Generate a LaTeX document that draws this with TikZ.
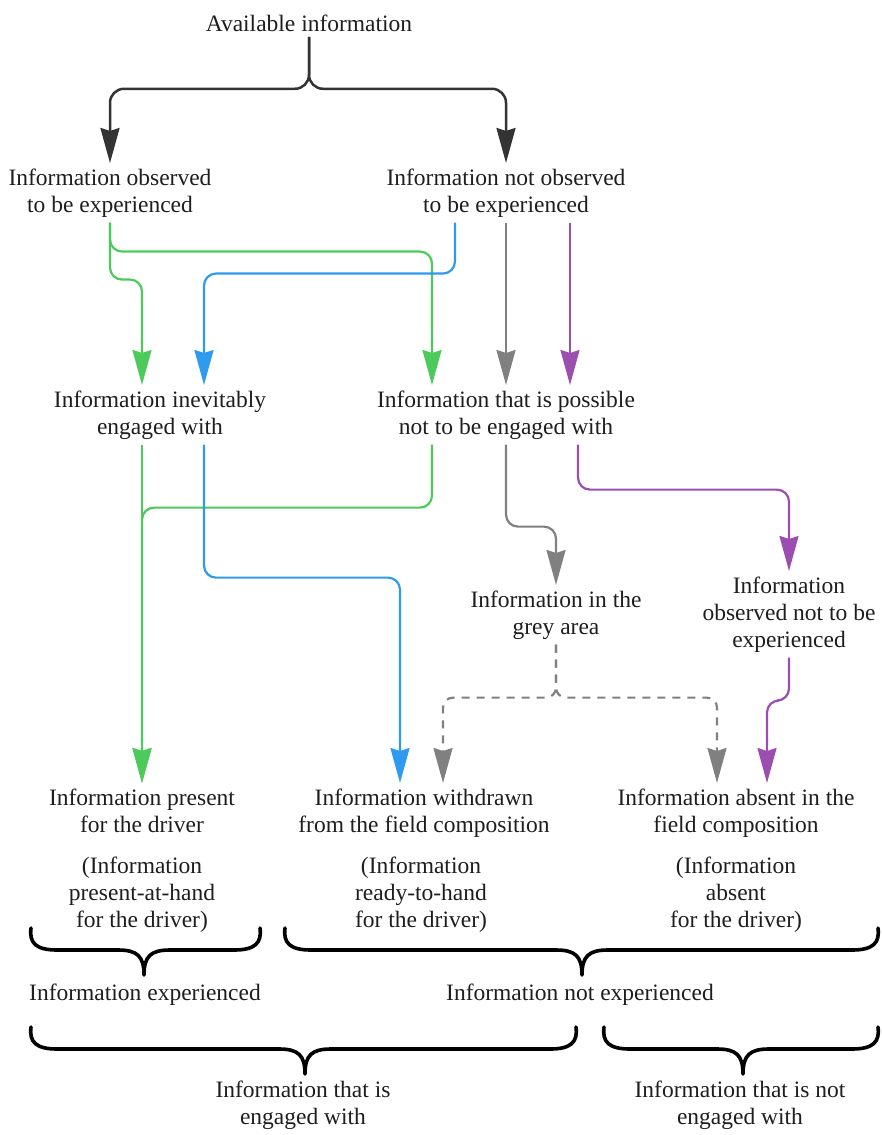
\documentclass[tikz,border=0pt]{standalone}
\usepackage{fontspec}
\setmainfont{Liberation Serif}
\usetikzlibrary{arrows.meta}

\definecolor{inkc}{RGB}{30,30,30}
\definecolor{darkln}{RGB}{51,51,51}
\definecolor{greenln}{RGB}{76,203,91}
\definecolor{blueln}{RGB}{46,155,240}
\definecolor{greyln}{RGB}{128,128,128}
\definecolor{purpleln}{RGB}{155,77,176}

% horizontal curly brace opening upwards: left x, right x, tip x, top y
\newcommand\drawcurly[4]{%
  \draw[bracestyle]
    (#1,#4) .. controls (#1-2,#4+15) and (#1+5,#4+22) .. (#1+26,#4+22)
    -- (#3-26,#4+22) .. controls (#3-7,#4+22) and (#3,#4+28) .. (#3,#4+47)
    .. controls (#3,#4+28) and (#3+7,#4+22) .. (#3+26,#4+22)
    -- (#2-26,#4+22) .. controls (#2-5,#4+22) and (#2+2,#4+15) .. (#2,#4);}

\begin{document}
\begin{tikzpicture}[x=1pt,y=-1pt,
  txt/.style={font=\fontsize{23.5}{27}\selectfont, text=inkc, align=center,
              inner sep=0pt, outer sep=0pt, anchor=north},
  link/.style={line width=2.2pt, rounded corners=12pt, shorten <=5pt, shorten >=6pt,
               -{Stealth[length=35pt,width=19pt,inset=3pt]}},
  blackln/.style={link, draw=darkln, line width=2.5pt, rounded corners=14pt},
  grnln/.style={link, draw=greenln},
  bluln/.style={link, draw=blueln},
  gryln/.style={link, draw=greyln},
  purln/.style={link, draw=purpleln},
  dashln/.style={gryln, dash pattern=on 8pt off 7pt, rounded corners=10pt},
  bracestyle/.style={draw=black, line width=3.6pt, line cap=round, line join=round}]

\useasboundingbox (0,0) rectangle (881,1135);

% ---- text nodes ----
\node[txt] (avail)     at (309,15)   {Available information};
\node[txt] (obs)       at (110,169)  {Information observed\\to be experienced};
\node[txt] (notobs)    at (506,169)  {Information not observed\\to be experienced};
\node[txt] (inev)      at (160,391)  {Information inevitably\\engaged with};
\node[txt] (poss)      at (506,391)  {Information that is possible\\not to be engaged with};
\node[txt] (grey)      at (556,591)  {Information in the\\grey area};
\node[txt] (obsnot)    at (789,577)  {Information\\observed not to be\\experienced};
\node[txt] (present)   at (142,789)  {Information present\\for the driver};
\node[txt] (withdrawn) at (424,789)  {Information withdrawn\\from the field composition};
\node[txt] (absent)    at (736,789)  {Information absent in the\\field composition};
\node[txt] (pah)       at (142,857)  {(Information\\present-at-hand\\for the driver)};
\node[txt] (rth)       at (421,857)  {(Information\\ready-to-hand\\for the driver)};
\node[txt] (abs)       at (736,857)  {(Information\\absent\\for the driver)};
\node[txt] (exp)       at (145,984)  {Information experienced};
\node[txt] (notexp)    at (580,984)  {Information not experienced};
\node[txt] (eng)       at (303,1081) {Information that is\\engaged with};
\node[txt] (noteng)    at (740,1081) {Information that is not\\engaged with};

% ---- split of the available information ----
\draw[blackln] (avail.south) -- ++(0,57) -| (obs.north);
\draw[blackln] (avail.south) -- ++(0,57) -| (notobs.north);

% ---- green links ----
\draw[grnln] (obs.south) -- ++(0,62) -| ([xshift=-18pt]inev.north);
\draw[grnln] (obs.south) -- ++(0,34) -| ([xshift=-74pt]poss.north);
\draw[grnln] (inev.south -| present.north) -- (present.north);
\draw[grnln] ([xshift=-74pt]poss.south) -- ++(0,68) -| (present.north);

% ---- blue links ----
\draw[bluln] ([xshift=-51pt]notobs.south) -- ++(0,56) -| ([xshift=44pt]inev.north);
\draw[bluln] ([xshift=44pt]inev.south) -- ++(0,138) -| ([xshift=-24pt]withdrawn.north);

% ---- grey links ----
\draw[gryln] (notobs.south) -- (poss.north);
\draw[gryln] (poss.south) -- ++(0,87) -| (grey.north);
\draw[dashln] (grey.south) -- ++(0,58) -| ([xshift=19pt]withdrawn.north);
\draw[dashln] (grey.south) -- ++(0,58) -| ([xshift=-19pt]absent.north);

% ---- purple links ----
\draw[purln] ([xshift=64pt]notobs.south) -- ([xshift=64pt]poss.north);
\draw[purln] ([xshift=72pt]poss.south) -- ++(0,50) -| (obsnot.north);
\draw[purln] (obsnot.south) -- ++(0,48) -| ([xshift=31pt]absent.north);

% ---- grouping braces ----
\drawcurly{31}{260}{144}{928}
\drawcurly{285}{878}{582}{928}
\drawcurly{31}{576}{305}{1027}
\drawcurly{604}{878}{743}{1027}

\end{tikzpicture}
\end{document}
